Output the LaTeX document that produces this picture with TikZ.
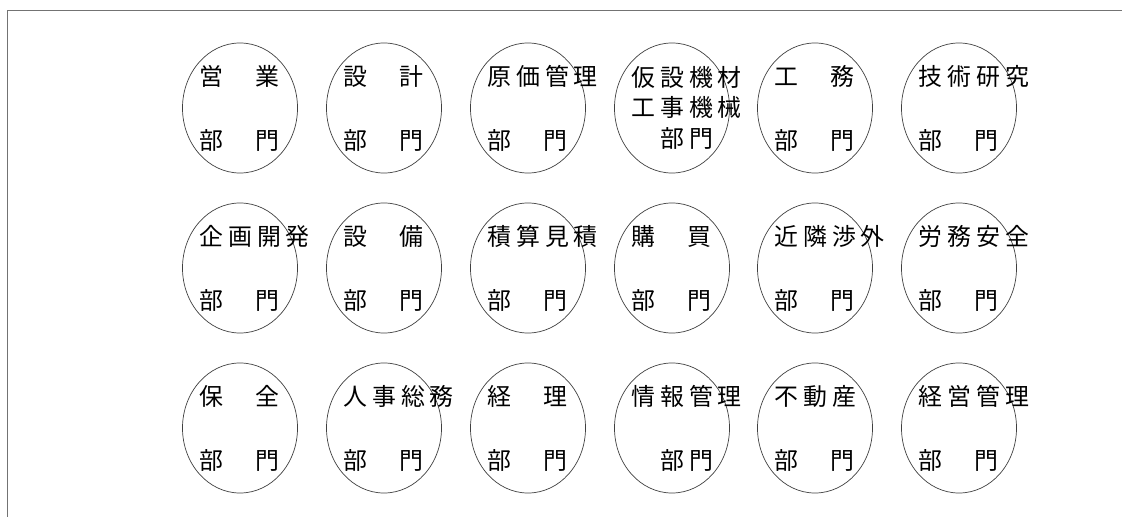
\documentclass[tikz,border=0pt]{standalone}
\usepackage{fontspec}
\newfontfamily\jpfont{Noto Sans CJK JP}
\usepackage{tikz}
\usetikzlibrary{shapes.geometric,calc}

\newcommand\kk{\hspace{0.125cm}}
\newcommand\two[2]{#1\hspace{0.8cm}#2}

\begin{document}
\begin{tikzpicture}[
  x=0.025cm, y=-0.025cm,
  dept/.style={ellipse, draw=black!75, line width=0.5pt, minimum width=2.875cm, minimum height=3.25cm, inner sep=0pt},
  lab/.style={anchor=west, inner sep=0pt, font=\jpfont\fontsize{17}{20}\selectfont}
]
\useasboundingbox (0,0) rectangle (1122,517);
\draw[black!55, line width=0.6pt] (7,517) -- (7,10) -- (1122,10);

% first row
\node[dept] (eigyo)   at (240,108) {};
\node[dept] (sekkei)  at (384,108) {};
\node[dept] (genka)   at (528,108) {};
\node[dept] (kasetsu) at (672,108) {};
\node[dept] (koumu)   at (815,108) {};
\node[dept] (gijutsu) at (959,108) {};

\node[lab] (eigyo-t)   at ($(eigyo)+(-41,-32)$)   {\two{営}{業}};
\node[lab] (eigyo-b)   at ($(eigyo)+(-41,32)$)    {\two{部}{門}};
\node[lab] (sekkei-t)  at ($(sekkei)+(-41,-32)$)  {\two{設}{計}};
\node[lab] (sekkei-b)  at ($(sekkei)+(-41,32)$)   {\two{部}{門}};
\node[lab] (genka-t)   at ($(genka)+(-41,-32)$)   {原\kk{}価\kk{}管\kk{}理};
\node[lab] (genka-b)   at ($(genka)+(-41,32)$)    {\two{部}{門}};
\node[lab] (kasetsu-t) at ($(kasetsu)+(-41,-31)$) {仮\kk{}設\kk{}機\kk{}材};
\node[lab] (kasetsu-m) at ($(kasetsu)+(-41,-1)$)  {工\kk{}事\kk{}機\kk{}械};
\node[lab] (kasetsu-b) at ($(kasetsu)+(-12,30)$)  {部\kk{}門};
\node[lab] (koumu-t)   at ($(koumu)+(-41,-32)$)   {\two{工}{務}};
\node[lab] (koumu-b)   at ($(koumu)+(-41,32)$)    {\two{部}{門}};
\node[lab] (gijutsu-t) at ($(gijutsu)+(-41,-32)$) {技\kk{}術\kk{}研\kk{}究};
\node[lab] (gijutsu-b) at ($(gijutsu)+(-41,32)$)  {\two{部}{門}};

% second row
\node[dept] (kikaku)  at (240,268) {};
\node[dept] (setsubi) at (384,268) {};
\node[dept] (sekisan) at (528,268) {};
\node[dept] (kobai)   at (672,268) {};
\node[dept] (kinrin)  at (815,268) {};
\node[dept] (roumu)   at (959,268) {};

\node[lab] (kikaku-t)  at ($(kikaku)+(-41,-32)$)  {企\kk{}画\kk{}開\kk{}発};
\node[lab] (kikaku-b)  at ($(kikaku)+(-41,32)$)   {\two{部}{門}};
\node[lab] (setsubi-t) at ($(setsubi)+(-41,-32)$) {\two{設}{備}};
\node[lab] (setsubi-b) at ($(setsubi)+(-41,32)$)  {\two{部}{門}};
\node[lab] (sekisan-t) at ($(sekisan)+(-41,-32)$) {積\kk{}算\kk{}見\kk{}積};
\node[lab] (sekisan-b) at ($(sekisan)+(-41,32)$)  {\two{部}{門}};
\node[lab] (kobai-t)   at ($(kobai)+(-41,-32)$)   {\two{購}{買}};
\node[lab] (kobai-b)   at ($(kobai)+(-41,32)$)    {\two{部}{門}};
\node[lab] (kinrin-t)  at ($(kinrin)+(-41,-32)$)  {近\kk{}隣\kk{}渉\kk{}外};
\node[lab] (kinrin-b)  at ($(kinrin)+(-41,32)$)   {\two{部}{門}};
\node[lab] (roumu-t)   at ($(roumu)+(-41,-32)$)   {労\kk{}務\kk{}安\kk{}全};
\node[lab] (roumu-b)   at ($(roumu)+(-41,32)$)    {\two{部}{門}};

% third row
\node[dept] (hozen)    at (240,428) {};
\node[dept] (jinji)    at (384,428) {};
\node[dept] (keiri)    at (528,428) {};
\node[dept] (jouhou)   at (672,428) {};
\node[dept] (fudousan) at (815,428) {};
\node[dept] (keiei)    at (959,428) {};

\node[lab] (hozen-t)    at ($(hozen)+(-41,-32)$)    {\two{保}{全}};
\node[lab] (hozen-b)    at ($(hozen)+(-41,32)$)     {\two{部}{門}};
\node[lab] (jinji-t)    at ($(jinji)+(-41,-32)$)    {人\kk{}事\kk{}総\kk{}務};
\node[lab] (jinji-b)    at ($(jinji)+(-41,32)$)     {\two{部}{門}};
\node[lab] (keiri-t)    at ($(keiri)+(-41,-32)$)    {\two{経}{理}};
\node[lab] (keiri-b)    at ($(keiri)+(-41,32)$)     {\two{部}{門}};
\node[lab] (jouhou-t)   at ($(jouhou)+(-41,-32)$)   {情\kk{}報\kk{}管\kk{}理};
\node[lab] (jouhou-b)   at ($(jouhou)+(-12,32)$)    {部\kk{}門};
\node[lab] (fudousan-t) at ($(fudousan)+(-41,-32)$) {不\kk{}動\kk{}産};
\node[lab] (fudousan-b) at ($(fudousan)+(-41,32)$)  {\two{部}{門}};
\node[lab] (keiei-t)    at ($(keiei)+(-41,-32)$)    {経\kk{}営\kk{}管\kk{}理};
\node[lab] (keiei-b)    at ($(keiei)+(-41,32)$)     {\two{部}{門}};
\end{tikzpicture}
\end{document}
